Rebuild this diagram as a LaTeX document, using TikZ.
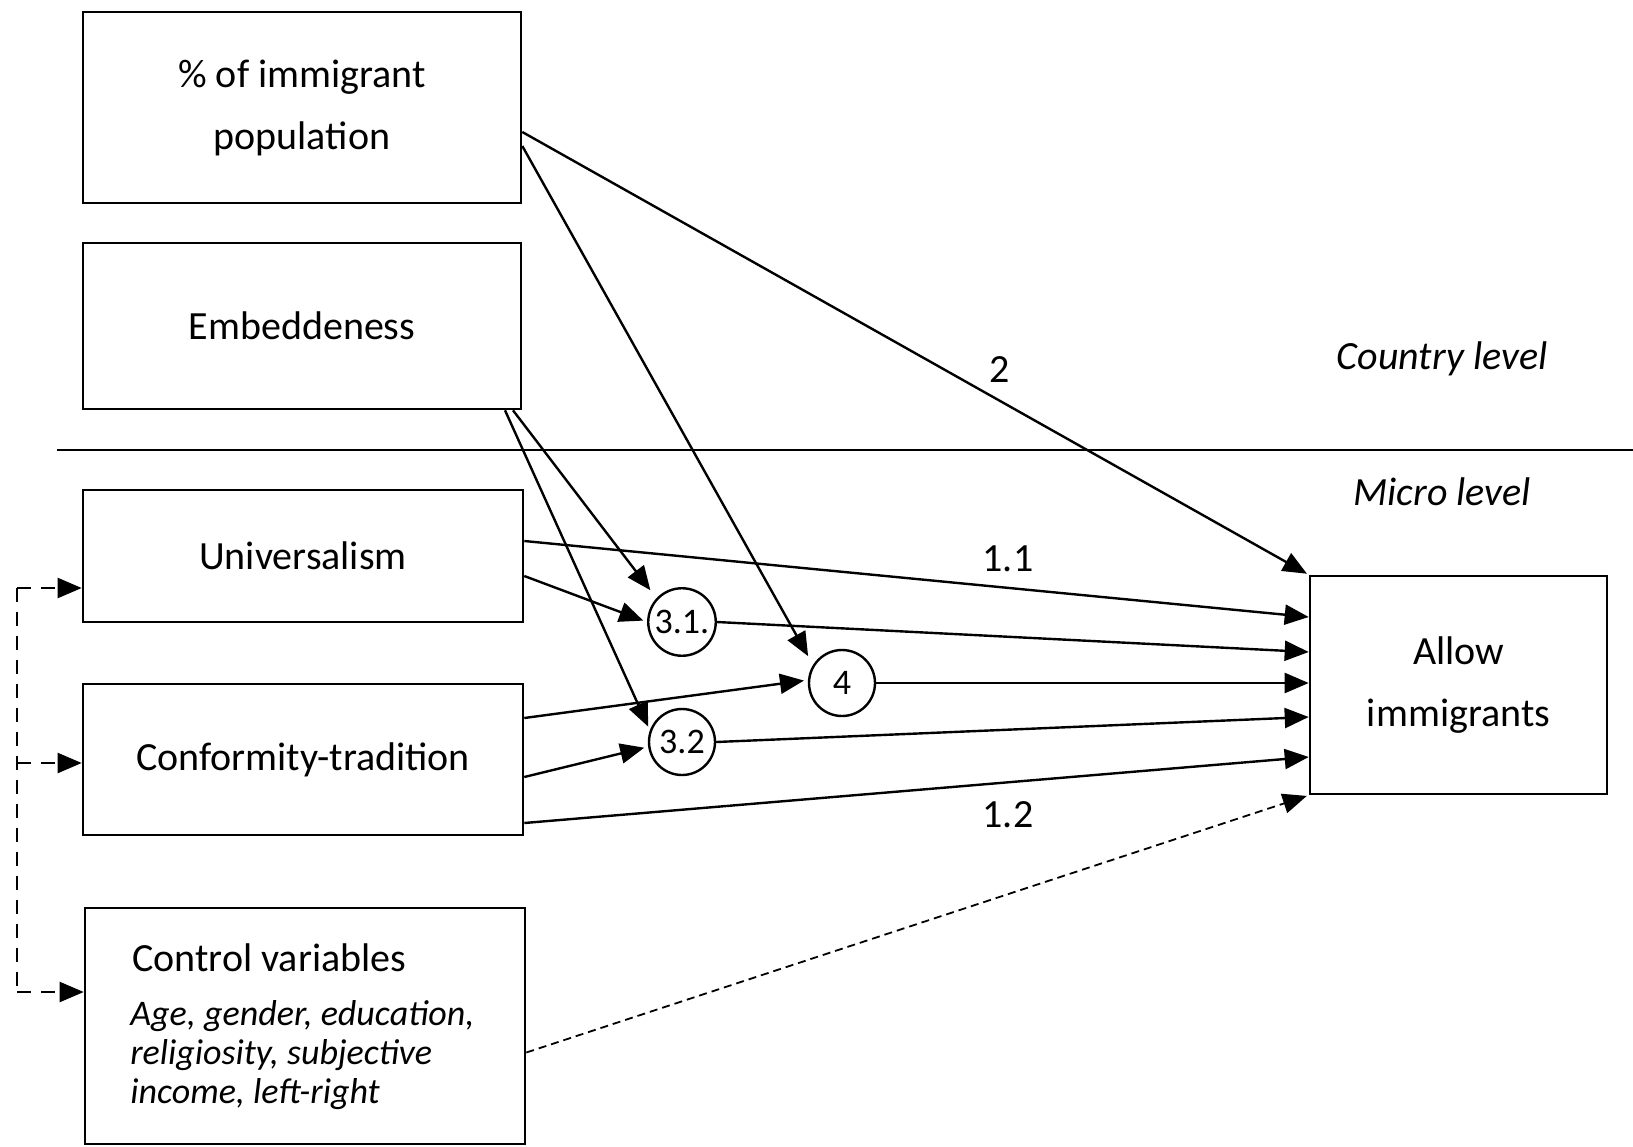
\documentclass[tikz,border=0pt]{standalone}
\usepackage{fontspec}
\setmainfont{Carlito}
\usetikzlibrary{arrows.meta}
\begin{document}
\begin{tikzpicture}[x=0.5pt,y=-0.5pt,
  box/.style={draw, line width=1.3pt, inner sep=0pt, align=center, font=\fontsize{20}{31}\selectfont},
  circ/.style={draw, circle, line width=1.2pt, minimum size=33pt, inner sep=1.5pt, font=\fontsize{18}{20}\selectfont},
  txt/.style={inner sep=0pt, font=\fontsize{20}{24}\selectfont},
  lvl/.style={inner sep=0pt, font=\itshape\fontsize{20}{24}\selectfont},
  lab/.style={inner sep=0pt, font=\fontsize{20}{24}\selectfont},
  tip/.style={-{Triangle[length=12pt,width=10pt]}},
  arr/.style={line width=1.2pt, tip},
  dsharr/.style={line width=1.1pt, dash pattern=on 7pt off 5pt},
  dotarr/.style={line width=0.9pt, dash pattern=on 4pt off 2.5pt, tip}
]
\useasboundingbox (0,0) rectangle (1633,1146);
\fill[white] (0,0) rectangle (1633,1146);

% boxes
\node[box, minimum width=219pt, minimum height=95.5pt] (b1) at (302,107.5) {\% of immigrant\\population};
\node[box, minimum width=219pt, minimum height=83pt] (b2) at (302,326) {Embeddeness};
\node[box, minimum width=220pt, minimum height=66pt] (u) at (303,556) {Universalism};
\node[box, minimum width=220pt, minimum height=75.5pt] (c) at (303,759.5) {Conformity-tradition};
\node[box, minimum width=220pt, minimum height=118pt] (cv) at (305,1026) {};
\node[txt, anchor=west] (cvt) at (132,958) {Control variables};
\node[txt, anchor=west, align=left, font=\itshape\fontsize{18}{19.5}\selectfont] (cvi) at (130,1055) {Age, gender, education,\\religiosity, subjective\\income, left-right};
\node[box, minimum width=148.5pt, minimum height=109pt] (al) at (1458.5,685) {Allow\\immigrants};

% circles
\node[circ] (c31) at (682,622) {3.1.};
\node[circ] (c4) at (842,683) {4};
\node[circ] (c32) at (682,742) {3.2};

% level divider
\coordinate (hlA) at (57,450);
\coordinate (hlB) at (1633,450);
\draw[line width=1.3pt] (hlA) -- (hlB);
\node[lvl] (cl) at (1442,359) {Country level};
\node[lvl] (ml) at (1442,492) {Micro level};

% arrows
\draw[arr, shorten >=1pt] ([yshift=-12.25pt]b1.east) -- (al.north west);
\draw[arr, shorten >=5pt] ([yshift=-19.25pt]b1.east) -- (c4.148);
\draw[arr, shorten >=5pt] ([xshift=105.5pt]b2.south) -- (c31.137);
\draw[arr, shorten >=2pt] ([xshift=101.5pt]b2.south) -- (c32.160);
\draw[arr] ([yshift=7.5pt]u.east) -- ([yshift=34pt]al.west);
\draw[arr, shorten >=2pt] ([yshift=-10pt]u.east) -- (c31.west);
\draw[arr] (c31.east) -- ([yshift=16.5pt]al.west);
\draw[arr] (c4.east) -- ([yshift=1pt]al.west);
\draw[arr, shorten >=2pt] ([yshift=20.75pt]c.east) -- (c4.175);
\draw[arr, shorten >=2pt] ([yshift=-8.75pt]c.east) -- (c32.188);
\draw[arr] (c32.east) -- ([yshift=-16pt]al.west);
\draw[arr] ([yshift=-31.75pt]c.east) -- ([yshift=-36pt]al.west);
\draw[dotarr, shorten >=1pt] ([yshift=-13.25pt]cv.east) -- (al.south west);

% path labels
\node[lab] (l2) at (1000,370) {2};
\node[lab] (l11) at (1008,559) {1.1};
\node[lab] (l12) at (1008,815) {1.2};

% dashed bracket to the left
\coordinate (d1) at (17,588);
\coordinate (d2) at (17,763);
\coordinate (d3) at (17,992);
\draw[dsharr] (d1) -- (d3);
\draw[dsharr, tip] (d1) -- (d1 -| u.west);
\draw[dsharr, tip] (d2) -- (d2 -| c.west);
\draw[dsharr, tip] (d3) -- (d3 -| cv.west);
\end{tikzpicture}
\end{document}
